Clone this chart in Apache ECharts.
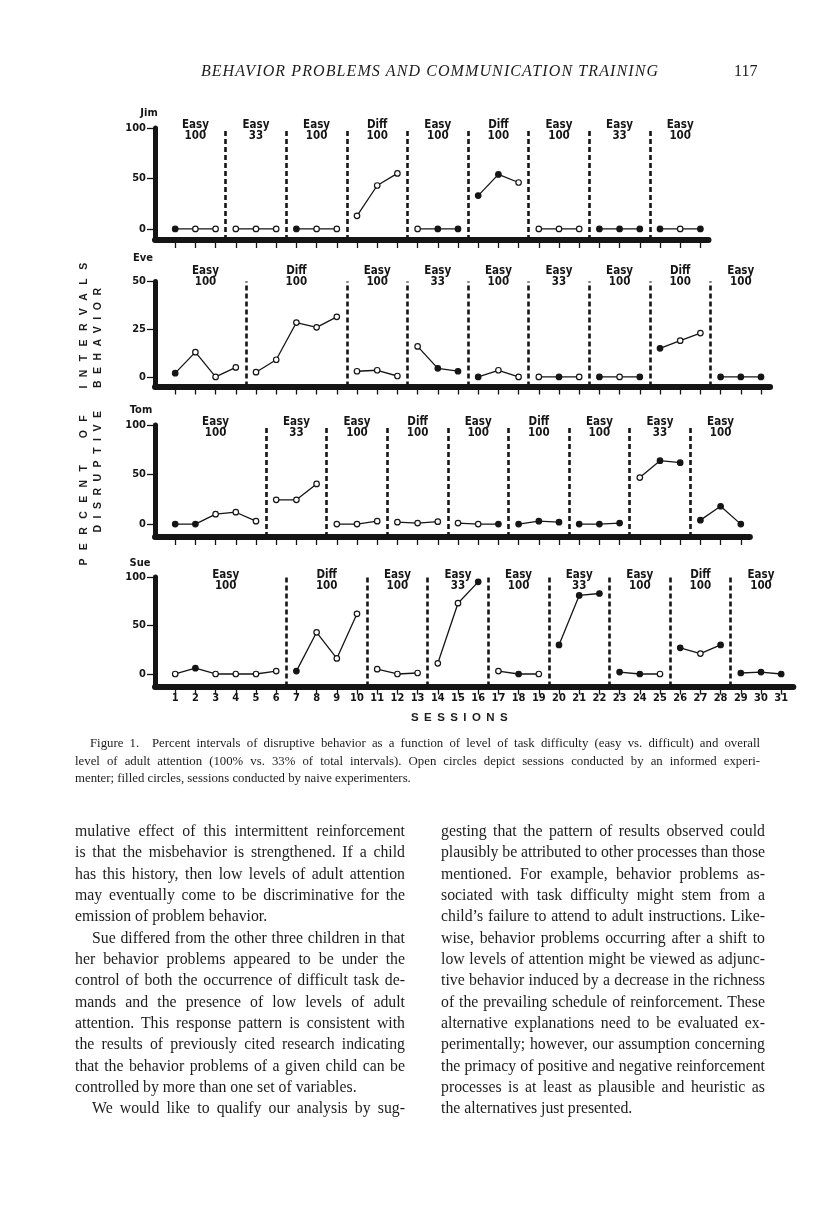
<!DOCTYPE html>
<html>
<head>
<meta charset="utf-8">
<script src="https://cdn.jsdelivr.net/npm/echarts@6.0.0/dist/echarts.min.js"></script>
<style>
html,body{margin:0;padding:0;background:#fff;}
#page{position:relative;width:816px;height:1219px;overflow:hidden;background:#fff;}
#chart{position:absolute;left:0;top:0;width:816px;height:1219px;}
.serif{position:absolute;font-family:"Liberation Serif","Times New Roman",serif;color:#1c1c1c;white-space:nowrap;}
.lbl{position:absolute;font-family:"Liberation Sans",Arial,sans-serif;font-weight:bold;color:#1c1c1c;white-space:nowrap;text-align:center;}
</style>
</head>
<body>
<div id="page">
<div id="chart"></div>
<div class="serif" style="left:130px;width:600px;top:62px;text-align:center;font-style:italic;font-size:16px;letter-spacing:1.1px;">BEHAVIOR PROBLEMS AND COMMUNICATION TRAINING</div>
<div class="serif" style="left:734px;top:62px;font-size:16px;">117</div>
<div class="lbl" style="left:-77px;top:403px;width:320px;font-size:10.5px;line-height:14px;letter-spacing:8.4px;word-spacing:7px;transform:rotate(-90deg);">PERCENT OF INTERVALS</div>
<div class="lbl" style="left:-63px;top:400px;width:320px;font-size:10.5px;line-height:14px;letter-spacing:6.5px;word-spacing:7px;transform:rotate(-90deg);">DISRUPTIVE BEHAVIOR</div>
<div class="lbl" style="left:362px;top:709px;width:200px;font-size:11.5px;line-height:16px;letter-spacing:5.4px;">SESSIONS</div>
</div>
<script>
// ---------------- DATA ----------------
const sessionTicks = [1,2,3,4,5,6,7,8,9,10,11,12,13,14,15,16,17,18,19,20,21,22,23,24,25,26,27,28,29,30,31];

const jimPhaseTask = ['Easy','Easy','Easy','Diff','Easy','Diff','Easy','Easy','Easy'];
const jimPhaseAttention = ['100','33','100','100','100','100','100','33','100'];
const jimPhaseLengths = [3,3,3,3,3,3,3,3,3];
const jimValues = [0,0,0, 0,0,0, 0,0,0, 13,43,55, 0,0,0, 33,54,46, 0,0,0, 0,0,0, 0,0,0];
const jimNaive  = [1,0,0, 0,0,0, 1,0,0, 0,0,0, 0,1,1, 1,1,0, 0,0,0, 1,1,1, 1,0,1];
const jimYTicks = [0,50,100];

const evePhaseTask = ['Easy','Diff','Easy','Easy','Easy','Easy','Easy','Diff','Easy'];
const evePhaseAttention = ['100','100','100','33','100','33','100','100','100'];
const evePhaseLengths = [4,5,3,3,3,3,3,3,3];
const eveValues = [2,13,0,5, 2.5,9,28.5,26,31.5, 3,3.5,0.5, 16,4.5,3, 0,3.5,0, 0,0,0, 0,0,0, 15,19,23, 0,0,0];
const eveNaive  = [1,0,0,0, 0,0,0,0,0, 0,0,0, 0,1,1, 1,0,0, 0,1,0, 1,0,1, 1,0,0, 1,1,1];
const eveYTicks = [0,25,50];

const tomPhaseTask = ['Easy','Easy','Easy','Diff','Easy','Diff','Easy','Easy','Easy'];
const tomPhaseAttention = ['100','33','100','100','100','100','100','33','100'];
const tomPhaseLengths = [5,3,3,3,3,3,3,3,3];
const tomValues = [0,0,10,12,3, 24.5,24.5,40.5, 0,0,3, 2,1,2.5, 1,0,0, 0,3,2, 0,0,1, 47,64,62, 4,18,0];
const tomNaive  = [1,1,0,0,0, 0,0,0, 0,0,0, 0,0,0, 0,0,1, 1,1,1, 1,1,1, 0,1,1, 1,1,1];
const tomYTicks = [0,50,100];

const suePhaseTask = ['Easy','Diff','Easy','Easy','Easy','Easy','Easy','Diff','Easy'];
const suePhaseAttention = ['100','100','100','33','100','33','100','100','100'];
const suePhaseLengths = [6,4,3,3,3,3,3,3,3];
const sueValues = [0,6,0,0,0,3, 3,43,16,62, 5,0,1, 11,73,95, 3,0,0, 30,81,83, 2,0,0, 27,21,30, 1,2,0];
const sueNaive  = [0,1,0,0,0,0, 1,0,0,0, 0,0,0, 0,0,1, 0,1,0, 1,1,1, 1,1,0, 1,0,1, 1,1,1];
const sueYTicks = [0,50,100];

// ---------------- LAYOUT (style only) ----------------
const FONT_NARROW = '"Liberation Sans Narrow","DejaVu Sans Condensed","Liberation Sans",Arial,sans-serif';
const panels = [
  {name:'Jim', task:jimPhaseTask, att:jimPhaseAttention, lens:jimPhaseLengths, vals:jimValues, naive:jimNaive, yTicks:jimYTicks,
   top:128, height:112, ymin:-11, ymax:100, xmax:27.4, labelY:119, nameX:149, nameY:113},
  {name:'Eve', task:evePhaseTask, att:evePhaseAttention, lens:evePhaseLengths, vals:eveValues, naive:eveNaive, yTicks:eveYTicks,
   top:281.5, height:105, ymin:-5, ymax:50, xmax:30.45, labelY:265, nameX:143, nameY:258},
  {name:'Tom', task:tomPhaseTask, att:tomPhaseAttention, lens:tomPhaseLengths, vals:tomValues, naive:tomNaive, yTicks:tomYTicks,
   top:425, height:112, ymin:-13, ymax:100, xmax:29.45, labelY:416, nameX:141, nameY:410},
  {name:'Sue', task:suePhaseTask, att:suePhaseAttention, lens:suePhaseLengths, vals:sueValues, naive:sueNaive, yTicks:sueYTicks,
   top:577, height:109.6, ymin:-13, ymax:100, xmax:31.6, labelY:569, nameX:140, nameY:563}
];
const STEP = 20.2, LEFT = 155, INK = '#151515';

const grids = [], xAxes = [], yAxes = [], series = [];
panels.forEach((p, gi) => {
  const n = p.vals.length;
  const isLast = gi === panels.length - 1;
  grids.push({left: LEFT, top: p.top, width: STEP * p.xmax, height: p.height});
  xAxes.push({
    gridIndex: gi, type: 'value', min: 0, max: p.xmax,
    axisLine: {show: true, onZero: false, lineStyle: {color: INK, width: 6}},
    axisTick: {show: true, customValues: sessionTicks.slice(0, n), length: 8, lineStyle: {color: INK, width: 1.3}},
    axisLabel: {show: isLast, customValues: sessionTicks.slice(0, n), margin: 6, color: INK,
      fontWeight: 'bold', fontSize: 11, fontFamily: FONT_NARROW},
    splitLine: {show: false}
  });
  yAxes.push({
    gridIndex: gi, type: 'value', min: p.ymin, max: p.ymax,
    axisLine: {show: true, onZero: false, lineStyle: {color: INK, width: 5}},
    axisTick: {show: true, customValues: p.yTicks, length: 8, lineStyle: {color: INK, width: 1.3}},
    axisLabel: {customValues: p.yTicks, margin: 9, color: INK, fontWeight: 'bold', fontSize: 11, fontFamily: FONT_NARROW},
    splitLine: {show: false}
  });
  let start = 1;
  const bounds = [];
  p.lens.forEach((len, k) => {
    if (k > 0) bounds.push(start - 0.5);
    const data = [];
    for (let i = 0; i < len; i++) {
      const s = start + i;
      data.push({value: [s, p.vals[s - 1]], itemStyle: {color: p.naive[s - 1] ? INK : '#ffffff'}});
    }
    series.push({
      type: 'line', xAxisIndex: gi, yAxisIndex: gi, data,
      symbol: 'circle', symbolSize: 5.5, showSymbol: true,
      lineStyle: {color: INK, width: 1.3},
      itemStyle: {borderColor: INK, borderWidth: 1.2},
      emphasis: {disabled: true}, silent: true, animation: false, z: 4
    });
    start += len;
  });
  series.push({
    type: 'line', xAxisIndex: gi, yAxisIndex: gi, data: [], silent: true, animation: false, z: 3,
    markLine: {
      silent: true, symbol: ['none', 'none'], label: {show: false}, animation: false,
      lineStyle: {color: INK, width: 2.6, type: [5, 3]},
      emphasis: {disabled: true},
      data: bounds.map(b => ({xAxis: b}))
    }
  });
});

const chart = echarts.init(document.getElementById('chart'), null, {renderer: 'canvas'});
chart.setOption({
  animation: false, backgroundColor: 'transparent',
  grid: grids, xAxis: xAxes, yAxis: yAxes, series
});

// phase labels & panel names
const graphics = [];
panels.forEach((p, gi) => {
  let start = 1;
  p.lens.forEach((len, k) => {
    const center = start + (len - 1) / 2;
    const px = chart.convertToPixel({xAxisIndex: gi}, center);
    graphics.push({type: 'text', x: px, y: p.labelY, silent: true,
      style: {text: p.task[k] + '\n' + p.att[k], align: 'center', verticalAlign: 'top',
        fill: INK, font: 'bold 11.5px ' + FONT_NARROW, lineHeight: 11.5}});
    start += len;
  });
  graphics.push({type: 'text', x: p.nameX, y: p.nameY, silent: true,
    style: {text: p.name, align: 'center', verticalAlign: 'middle', fill: INK, font: 'bold 11px ' + FONT_NARROW}});
});
chart.setOption({graphic: graphics});

// ---------------- TEXT ----------------
const captionLines = [
  ['Figure 1.\u2002\u2002Percent intervals of disruptive behavior as a function of level of task difficulty (easy vs. difficult) and overall', 90, 670, true],
  ['level of adult attention (100% vs. 33% of total intervals). Open circles depict sessions conducted by an informed experi-', 75, 685, true],
  ['menter; filled circles, sessions conducted by naive experimenters.', 75, 685, false]
];
const leftColumn = [
  ['mulative effect of this intermittent reinforcement', 0, true],
  ['is that the misbehavior is strengthened. If a child', 0, true],
  ['has this history, then low levels of adult attention', 0, true],
  ['may eventually come to be discriminative for the', 0, true],
  ['emission of problem behavior.', 0, false],
  ['Sue differed from the other three children in that', 17, true],
  ['her behavior problems appeared to be under the', 0, true],
  ['control of both the occurrence of difficult task de-', 0, true],
  ['mands and the presence of low levels of adult', 0, true],
  ['attention. This response pattern is consistent with', 0, true],
  ['the results of previously cited research indicating', 0, true],
  ['that the behavior problems of a given child can be', 0, true],
  ['controlled by more than one set of variables.', 0, false],
  ['We would like to qualify our analysis by sug-', 17, true]
];
const rightColumn = [
  ['gesting that the pattern of results observed could', 0, true],
  ['plausibly be attributed to other processes than those', 0, true],
  ['mentioned. For example, behavior problems as-', 0, true],
  ['sociated with task difficulty might stem from a', 0, true],
  ['child\u2019s failure to attend to adult instructions. Like-', 0, true],
  ['wise, behavior problems occurring after a shift to', 0, true],
  ['low levels of attention might be viewed as adjunc-', 0, true],
  ['tive behavior induced by a decrease in the richness', 0, true],
  ['of the prevailing schedule of reinforcement. These', 0, true],
  ['alternative explanations need to be evaluated ex-', 0, true],
  ['perimentally; however, our assumption concerning', 0, true],
  ['the primacy of positive and negative reinforcement', 0, true],
  ['processes is at least as plausible and heuristic as', 0, true],
  ['the alternatives just presented.', 0, false]
];

const page = document.getElementById('page');
function placeLine(text, left, centerY, width, size, justify) {
  const d = document.createElement('div');
  d.className = 'serif';
  d.textContent = text;
  const lh = Math.round(size * 1.25);
  d.style.left = left + 'px';
  d.style.top = (centerY - lh / 2) + 'px';
  d.style.fontSize = size + 'px';
  d.style.lineHeight = lh + 'px';
  page.appendChild(d);
  const w = d.getBoundingClientRect().width;
  if (justify) {
    const spaces = (text.match(/ /g) || []).length;
    if (w > width) {
      d.style.letterSpacing = ((width - w) / text.length) + 'px';
    } else if (spaces > 0) {
      d.style.wordSpacing = ((width - w) / spaces) + 'px';
    }
  } else if (w > width) {
    d.style.letterSpacing = ((width - w) / text.length) + 'px';
  }
}
captionLines.forEach((c, i) => placeLine(c[0], c[1], 743 + i * 17.5, c[2], 12.8, c[3]));
leftColumn.forEach((c, i) => placeLine(c[0], 75 + c[1], 831 + i * 21.33, 330 - c[1], 15.8, c[2]));
rightColumn.forEach((c, i) => placeLine(c[0], 441 + c[1], 831 + i * 21.33, 324 - c[1], 15.8, c[2]));
</script>
</body>
</html>
